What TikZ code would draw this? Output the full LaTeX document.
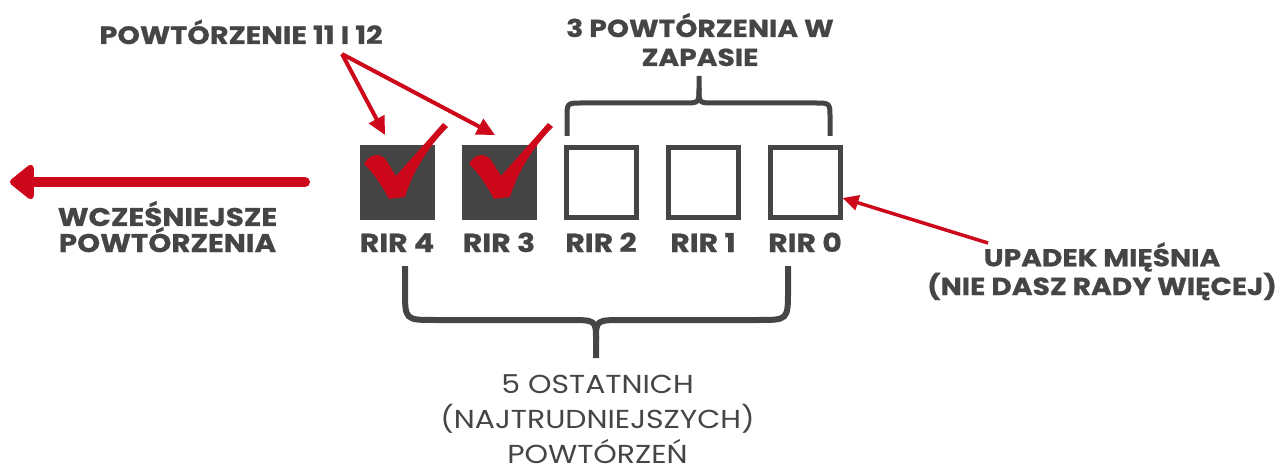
\documentclass[tikz,border=0pt]{standalone}
\usepackage{fontspec}
\setmainfont{Poppins}[FakeStretch=1.15,BoldFeatures={FakeBold=0.8}]
\usetikzlibrary{arrows.meta}
\definecolor{dgray}{RGB}{69,69,69}
\definecolor{cred}{RGB}{204,8,26}
\tikzset{
  fullbox/.style={draw=none,fill=dgray,minimum size=75pt,inner sep=0pt},
  openbox/.style={draw=dgray,line width=5pt,fill=none,minimum size=70pt,inner sep=0pt},
  rirlabel/.style={text=dgray,font=\bfseries\fontsize{26}{26}\selectfont,inner sep=0pt,anchor=base},
  boldtxt/.style={text=dgray,align=center,inner sep=0pt,anchor=base},
  brace/.style={draw=dgray,line cap=butt},
  redarrow/.style={draw=cred,line width=4pt,-{Triangle[length=18pt,width=17pt]}},
  checkmark/.style={fill=cred,draw=none}
}
\begin{document}
\begin{tikzpicture}[x=1pt,y=-1pt]
\useasboundingbox (0,0) rectangle (1284,470);
% boxes
\node[fullbox] (b4) at (397.5,183) {};
\node[fullbox] (b3) at (499.5,183) {};
\node[openbox] (b2) at (601,183) {};
\node[openbox] (b1) at (703,183) {};
\node[openbox] (b0) at (805,183) {};
% labels
\node[rirlabel] (l4) at (397,252) {RIR 4};
\node[rirlabel] (l3) at (499,252) {RIR 3};
\node[rirlabel] (l2) at (601,252) {RIR 2};
\node[rirlabel] (l1) at (703,252) {RIR 1};
\node[rirlabel] (l0) at (805,252) {RIR 0};
% checkmarks
\foreach \dx in {0,105}{
  \path[checkmark,xshift=\dx] (364,164) .. controls (369,154) and (380,152) .. (386,160)
     -- (396,176) -- (443,123) -- (448,127)
     .. controls (430,145) and (413,170) .. (405,197)
     -- (389,199) .. controls (382,186) and (373,172) .. cycle;
}
% top title and arrows
\node[boldtxt,font=\bfseries\fontsize{25}{25}\selectfont] (title) at (241,44) {POWTÓRZENIE 11 I 12};
\coordinate (src) at (342,54);
\coordinate (t4) at (385,135);
\coordinate (t3) at (495,135);
\draw[redarrow] (src) -- (t4);
\draw[redarrow] (src) -- (t3);
% top-right text and brace
\node[boldtxt,font=\bfseries\fontsize{24.5}{29}\selectfont] (reserve) at (700,66) {3 POWTÓRZENIA W\\ZAPASIE};
\draw[brace,line width=5pt] (567,136) -- (567,118) .. controls (567,103) .. (582,103) -- (684,103)
   .. controls (699,103) .. (699,88) -- (699,76);
\draw[brace,line width=5pt] (699,88) .. controls (699,103) .. (714,103) -- (815,103)
   .. controls (830,103) .. (830,118) -- (830,136);
% bottom brace
\draw[brace,line width=6pt] (405,266) -- (405,290) .. controls (405,320) .. (435,320) -- (568,320)
   .. controls (596,320) .. (596,340) -- (596,358);
\draw[brace,line width=6pt] (596,340) .. controls (596,320) .. (624,320) -- (758,320)
   .. controls (788,320) .. (788,290) -- (788,266);
\node[boldtxt,font=\fontsize{26}{35}\selectfont] (last) at (597.5,463) {5 OSTATNICH\\(NAJTRUDNIEJSZYCH)\\POWTÓRZEŃ};
% left arrow
\coordinate (lstart) at (305,182);
\coordinate (lend) at (10,182);
\draw[cred,line width=10pt,line cap=round,-{Triangle[length=26pt,width=40pt,round]}] (lstart) -- (lend);
\node[boldtxt,font=\bfseries\fontsize{25.5}{26}\selectfont] (earlier) at (167.5,252) {WCZEŚNIEJSZE\\POWTÓRZENIA};
% right text and arrow
\node[boldtxt,font=\bfseries\fontsize{24.5}{24.5}\selectfont] (fail) at (1102,295) {UPADEK MIĘŚNIA\\(NIE DASZ RADY WIĘCEJ)};
\coordinate (fsrc) at (988,243);
\draw[cred,line width=3.5pt,-{Triangle[length=16pt,width=15pt]}] (fsrc) -- (b0.east |- 0,198) ;
\end{tikzpicture}
\end{document}
